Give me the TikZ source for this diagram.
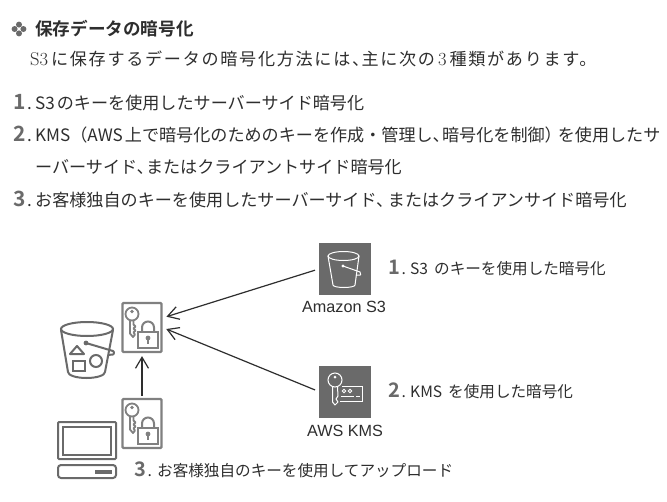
\documentclass[tikz,border=0pt]{standalone}
\usepackage{fontspec}
\setmainfont{Noto Sans CJK JP}[BoldFont={* Bold}]
\newfontfamily\latinserif{Latin Modern Roman}
\newfontfamily\latinsans{Liberation Sans}
\usetikzlibrary{calc,arrows.meta}
\definecolor{icongray}{HTML}{6A6A6A}
\definecolor{docgray}{HTML}{808080}
\definecolor{inkgray}{HTML}{2E2E2E}
\newcommand{\stepnum}[2][21]{{\fontsize{#1}{#1}\selectfont\bfseries\color{icongray}#2}\kern1.5pt}
\newcommand{\tenten}{、\kern-0.45em}
\tikzset{
    x=1pt, y=-1pt,
    textline/.style={anchor=west, inner sep=0pt, text=inkgray, font=\fontsize{17.1}{18}\selectfont},
    difflabel/.style={anchor=west, inner sep=0pt, text=inkgray, font=\fontsize{15.6}{16}\selectfont},
    servicename/.style={inner sep=0pt, text=inkgray, font=\latinsans\fontsize{16.2}{17}\selectfont},
    darkbox/.style={fill=icongray, draw=none, minimum width=52pt, minimum height=52pt, inner sep=0pt},
    lockdoc/.style={draw=docgray, line width=2.2pt, fill=white, rounded corners=1pt, minimum width=39pt, minimum height=49pt, inner sep=0pt},
    toarrow/.style={-{Straight Barb[length=11pt,width=13pt]}, line width=1.2pt, draw=inkgray, shorten >=4pt, shorten <=4pt},
    keylock/.pic={
        \draw [docgray, line width=1.8pt] (-10,-13.5) circle (6.5);
        \fill [docgray] (-10,-16) circle (1.8);
        \draw [docgray, line width=1.8pt, line join=round] (-12,-7.5) -- (-12,6) -- (-9,9.5) -- (-7,7) -- (-8.5,5) -- (-6.5,3) -- (-8.5,1) -- (-6.5,-1) -- (-8.5,-3) -- (-8.5,-7.5);
        \draw [docgray, line width=2pt] (0,4.5) -- (0,0) arc [start angle=180, end angle=360, radius=6] -- (12,4.5);
        \draw [docgray, line width=2pt, fill=white] (-4,4.5) rectangle (16,20.5);
        \fill [docgray] (6,10.5) circle (2.4);
        \draw [docgray, line width=1.4pt] (6,10.5) -- (6,16);
    }
}
\begin{document}
\begin{tikzpicture}
        \useasboundingbox [fill=white] (0,0) rectangle (667,501);
        \foreach \dx/\dy in {-4.4/0,4.4/0,0/-4.4,0/4.4}
            \fill [icongray] (19+\dx,29+\dy) circle (3);
        \node (title) [textline, font=\fontsize{17.6}{18}\selectfont\bfseries] at (35,29) {保存データの暗号化};
        \node (intro) [textline] at (30,59) {\addfontfeature{LetterSpace=10}{\latinserif\fontsize{18.5}{18}\selectfont S3}\kern3pt に保存するデータの暗号化方法には\tenten 主に次の\kern3pt{\latinserif\fontsize{18.5}{18}\selectfont 3}\kern3pt 種類があります。};
        \node (lineA) [textline] at (13,103) {\makebox[22pt][l]{\stepnum{1}.}S3\kern2pt のキーを使用したサーバーサイド暗号化};
        \node (lineB) [textline] at (13,135) {\makebox[22pt][l]{\stepnum{2}.}KMS（AWS\kern2pt 上で暗号化のためのキーを作成・管理し\tenten 暗号化を制御）\kern-4pt を使用したサ};
        \node (lineC) [textline] at (35,167) {ーバーサイド\tenten またはクライアントサイド暗号化};
        \node (lineD) [textline] at (13,200) {\makebox[22pt][l]{\stepnum{3}.}お客様独自のキーを使用したサーバーサイド\tenten\kern2.5pt またはクライアンサイド暗号化};

        \node (s3box) [darkbox] at (345,269) {};
        \node (kmsbox) [darkbox] at (345,391.5) {};
        \node (s3name) [servicename] at (344,307) {Amazon S3};
        \node (kmsname) [servicename] at (345,431) {AWS KMS};
        \node (lockA) [lockdoc] at (142,327.5) {};
        \node (lockB) [lockdoc] at (142,423.5) {};
        \pic at (lockA) {keylock};
        \pic at (lockB) {keylock};
        \node (labelA) [difflabel] at (388,268) {\makebox[22pt][l]{\stepnum[20]{1}.}S3\kern6pt のキーを使用した暗号化};
        \node (labelB) [difflabel] at (388,391) {\makebox[22pt][l]{\stepnum[20]{2}.}KMS\kern6pt を使用した暗号化};
        \node (labelC) [difflabel] at (134,470) {\makebox[23pt][l]{\stepnum[20]{3}.}お客様独自のキーを使用してアップロード};

        \draw [toarrow] (s3box.west) -- (lockA.25);
        \draw [toarrow] (kmsbox.west) -- (lockA.east);
        \draw [toarrow, shorten >=3pt, shorten <=2pt] (lockB.north) -- (lockA.south);

        \draw [white, line width=1pt] (328,256) -- (333,285) arc [start angle=180, end angle=0, x radius=11, y radius=2.5] -- (359,256);
        \draw [white, line width=1pt] (343.5,256) ellipse [x radius=15.5, y radius=4.5];
        \fill [white] (343,266) circle (1.6);
        \draw [white, line width=1pt] (343,266) -- (360,272) arc [start angle=-60, end angle=60, radius=1.8] -- (356,275);

        \draw [white, line width=1pt] (335,380) circle (7);
        \fill [white] (335,377) circle (1.5);
        \draw [white, line width=1pt, line join=round] (332.5,387) -- (332.5,402) -- (335,405) -- (338,402) -- (336,399) -- (338,396) -- (337.5,387);
        \draw [white, line width=1pt] (342,386) -- (362,386) -- (362,401) -- (340,401);
        \draw [white, line width=0.8pt] (344,391) circle (1.8) (350,391) circle (1.8);
        \draw [white, line width=0.8pt] (341,396) -- (354,396) (356,396) -- (360,396);

        \draw [icongray, line width=2pt, line join=round] (61,330) -- (68,372) arc [start angle=180, end angle=0, x radius=18.5, y radius=6] -- (113,330);
        \draw [icongray, line width=2pt] (87,329) ellipse [x radius=26, y radius=7];
        \fill [icongray] (86,343) circle (2.4);
        \draw [icongray, line width=2pt] (86,343) -- (113,351) arc [start angle=-60, end angle=60, radius=2] -- (108,355);
        \draw [icongray, line width=2pt, line join=round] (77,346) -- (84,354) -- (70,354) -- cycle;
        \draw [icongray, line width=2pt] (73,361) rectangle (85,371);
        \draw [icongray, line width=2pt] (96,361) circle (6);

        \draw [icongray, line width=2pt, rounded corners=1pt] (58,422) rectangle (116,459);
        \draw [icongray, line width=2pt] (63,427) rectangle (111,455);
        \draw [icongray, line width=2pt, rounded corners=3pt] (58,465) rectangle (116,478);
        \fill [icongray] (95,470) rectangle (112,473.5);
    \end{tikzpicture}
\end{document}
